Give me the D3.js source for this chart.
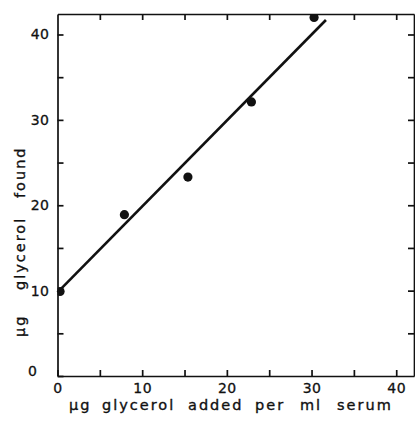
<!DOCTYPE html>
<html lang='en'>
<head>
	<meta charset='UTF-8'/>
	<title>Glycerol recovery</title>
	<script src='https://cdn.jsdelivr.net/npm/d3@7'></script>
	<style>
		body {margin: 0; background: #fff;}
		svg {display: block;}
		text {font-family: 'DejaVu Sans', sans-serif; fill: #111;}
		.axis path, .axis line {stroke: #111; stroke-width: 1.7;}
		.axis text {font-size: 14px; stroke: #111; stroke-width: 0.3; letter-spacing: 0.5px;}
		.title {font-size: 14.5px; letter-spacing: 2px; stroke: #111; stroke-width: 0.35;}
	</style>
</head>
<body>
	<div class='graph'></div>
	<script>
		// data
		const addedX = [0.3, 7.9, 15.4, 22.9, 30.3];
		const foundY = [9.9, 18.9, 23.3, 32.1, 42.0];
		const fitX = [0, 31.7];
		const fitY = [9.8, 41.7];
		const tickVals = [0, 5, 10, 15, 20, 25, 30, 35, 40];
		const labelVals = [0, 10, 20, 30, 40];
		const xTitleWords = ['µg', 'glycerol', 'added', 'per', 'ml', 'serum'];
		const yTitleWords = ['µg', 'glycerol', 'found'];

		const width = 415, height = 421;
		const margin = {top: 14, right: 1, bottom: 45, left: 57.5};

		const svg = d3.select('.graph')
			.append('svg')
			.attr('width', width)
			.attr('height', height);

		const X = d3.scaleLinear().domain([0, 42.1]).range([margin.left, width - margin.right]);
		const Y = d3.scaleLinear().domain([0, 42.4]).range([height - margin.bottom, margin.top]);

		const fmt = d => labelVals.includes(d) ? d : '';

		// bottom + left axes with labels, ticks pointing inward
		svg.append('g').attr('class', 'axis')
			.attr('transform', 'translate(0,' + Y(0) + ')')
			.call(d3.axisBottom(X).tickValues(tickVals).tickSizeInner(-6).tickSizeOuter(0).tickPadding(7).tickFormat(fmt));
		const yAx = svg.append('g').attr('class', 'axis')
			.attr('transform', 'translate(' + X(0) + ',0)')
			.call(d3.axisLeft(Y).tickValues(tickVals).tickSizeInner(-6).tickSizeOuter(0).tickPadding(8).tickFormat(fmt));
		// the y zero sits further left and a little higher
		yAx.selectAll('.tick text').filter(d => d === 0).attr('dx', -12).attr('dy', '-0.05em');

		// top + right frame with ticks inward
		svg.append('g').attr('class', 'axis')
			.attr('transform', 'translate(0,' + Y.range()[1] + ')')
			.call(d3.axisTop(X).tickValues(tickVals.slice(1)).tickSizeInner(-6).tickSizeOuter(0).tickFormat(''));
		svg.append('g').attr('class', 'axis')
			.attr('transform', 'translate(' + X.range()[1] + ',0)')
			.call(d3.axisRight(Y).tickValues(tickVals.slice(1)).tickSizeInner(-6).tickSizeOuter(0).tickFormat(''));

		svg.append('clipPath').attr('id', 'plot')
			.append('rect')
			.attr('x', X(0)).attr('y', Y.range()[1])
			.attr('width', X.range()[1] - X(0))
			.attr('height', Y(0) - Y.range()[1]);

		// fitted line
		svg.append('line')
			.attr('x1', X(fitX[0])).attr('y1', Y(fitY[0]))
			.attr('x2', X(fitX[1])).attr('y2', Y(fitY[1]))
			.attr('stroke', '#111')
			.attr('stroke-width', 2.6);

		// measured points
		svg.append('g').attr('clip-path', 'url(#plot)')
			.selectAll('circle')
			.data(addedX)
			.enter()
			.append('circle')
			.attr('cx', d => X(d))
			.attr('cy', (d, i) => Y(foundY[i]))
			.attr('r', 4.6)
			.attr('fill', '#111');

		// axis titles, words spread out like the typeset original
		const xWordPos = [69, 102, 188, 255, 300, 337];
		svg.append('text')
			.attr('class', 'title')
			.attr('y', 410)
			.selectAll('tspan')
			.data(xTitleWords)
			.enter()
			.append('tspan')
			.attr('x', (d, i) => xWordPos[i])
			.text(d => d);

		const yWordPos = [-337, -290, -198];
		svg.append('text')
			.attr('class', 'title')
			.attr('transform', 'translate(25,0) rotate(-90)')
			.selectAll('tspan')
			.data(yTitleWords)
			.enter()
			.append('tspan')
			.attr('x', (d, i) => yWordPos[i])
			.text(d => d);
	</script>
</body>
</html>
